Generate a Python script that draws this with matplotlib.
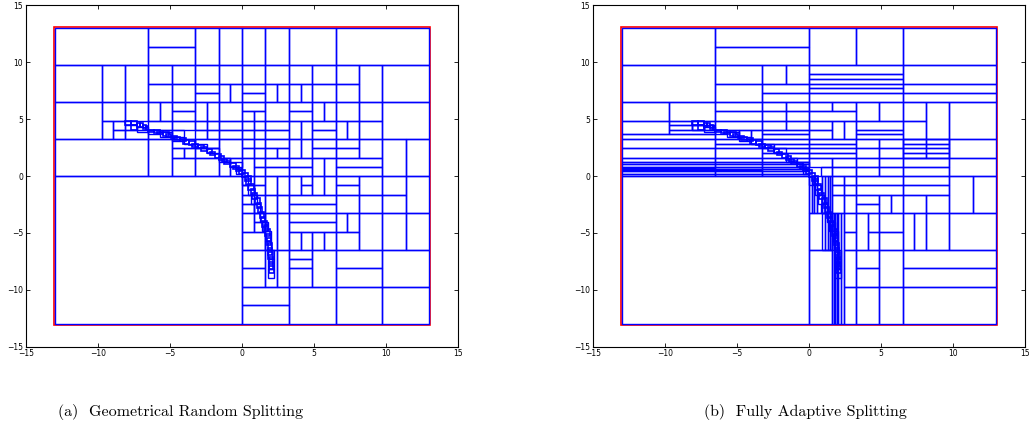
import matplotlib
matplotlib.use("Agg")
import matplotlib.pyplot as plt
from matplotlib.patches import Rectangle

# domain of the partition (red frame)
domain = (-13, 13, -13, 13)
ticks = [-15, -10, -5, 0, 5, 10, 15]
captions = ["(a)  Geometrical Random Splitting", "(b)  Fully Adaptive Splitting"]

# ---- panel (a): boxes (x0, x1, y0, y1) ----
geo_cells = [
    # top row
    (-13, -6.5, 9.75, 13), (-6.5, -3.25, 11.375, 13), (-6.5, -3.25, 9.75, 11.375),
    (-3.25, -1.625, 9.75, 13), (-1.625, 0, 9.75, 13), (0, 1.625, 9.75, 13),
    (1.625, 3.25, 9.75, 13), (3.25, 6.5, 9.75, 13), (6.5, 13, 9.75, 13),
    # 6.5 .. 9.75
    (-13, -9.75, 6.5, 9.75), (-9.75, -8.125, 6.5, 9.75), (-8.125, -6.5, 6.5, 9.75),
    (-6.5, -4.875, 8.125, 9.75), (-4.875, -3.25, 8.125, 9.75),
    (-6.5, -4.875, 6.5, 8.125), (-4.875, -3.25, 6.5, 8.125),
    (-3.25, -1.625, 8.125, 9.75), (-1.625, 0, 8.125, 9.75),
    (-3.25, -1.625, 7.3125, 8.125), (-3.25, -1.625, 6.5, 7.3125),
    (-1.625, -0.8125, 6.5, 8.125), (-0.8125, 0, 6.5, 8.125),
    (0, 1.625, 8.125, 9.75), (1.625, 3.25, 8.125, 9.75),
    (0, 1.625, 7.3125, 8.125), (0, 1.625, 6.5, 7.3125),
    (1.625, 2.4375, 6.5, 8.125), (2.4375, 3.25, 6.5, 8.125),
    (3.25, 4.875, 8.125, 9.75), (4.875, 6.5, 8.125, 9.75),
    (3.25, 4.0625, 6.5, 8.125), (4.0625, 4.875, 6.5, 8.125), (4.875, 6.5, 6.5, 8.125),
    (6.5, 8.125, 8.125, 9.75), (6.5, 8.125, 6.5, 8.125), (8.125, 9.75, 6.5, 9.75),
    (9.75, 13, 6.5, 9.75),
    # 3.25 .. 6.5
    (-13, -9.75, 3.25, 6.5), (-9.75, -8.125, 4.875, 6.5), (-8.125, -6.5, 4.875, 6.5),
    (-9.75, -8.9375, 3.25, 4.875), (-8.9375, -8.125, 4.0625, 4.875),
    (-8.9375, -8.125, 3.25, 4.0625), (-8.125, -6.5, 3.25, 4.0625),
    (-6.5, -5.6875, 4.875, 6.5), (-5.6875, -4.875, 4.875, 6.5),
    (-4.875, -3.25, 5.6875, 6.5), (-4.875, -3.25, 4.875, 5.6875),
    (-6.5, -4.875, 4.0625, 4.875), (-6.5, -4.875, 3.25, 4.0625),
    (-4.875, -3.25, 4.0625, 4.875), (-4.875, -4.0625, 3.25, 4.0625),
    (-3.25, -2.4375, 4.875, 6.5), (-2.4375, -1.625, 4.875, 6.5), (-1.625, 0, 4.875, 6.5),
    (-3.25, -2.4375, 4.0625, 4.875), (-2.4375, -1.625, 4.0625, 4.875),
    (-1.625, 0, 4.0625, 4.875), (-3.25, -2.4375, 3.25, 4.0625),
    (-2.4375, -1.625, 3.25, 4.0625), (-1.625, 0, 3.25, 4.0625),
    (0, 1.625, 5.6875, 6.5), (0, 0.8125, 4.875, 5.6875), (0.8125, 1.625, 4.875, 5.6875),
    (1.625, 3.25, 4.875, 6.5), (0, 0.8125, 4.0625, 4.875), (0.8125, 1.625, 4.0625, 4.875),
    (1.625, 3.25, 4.0625, 4.875), (0, 0.8125, 3.25, 4.0625),
    (0.8125, 1.625, 3.25, 4.0625), (1.625, 3.25, 3.25, 4.0625),
    (3.25, 4.875, 5.6875, 6.5), (3.25, 4.875, 4.875, 5.6875),
    (4.875, 5.6875, 4.875, 6.5), (5.6875, 6.5, 4.875, 6.5),
    (3.25, 4.0625, 3.25, 4.875), (4.0625, 4.875, 3.25, 4.875),
    (4.875, 6.5, 4.0625, 4.875), (4.875, 6.5, 3.25, 4.0625),
    (6.5, 8.125, 4.875, 6.5), (8.125, 9.75, 4.875, 6.5),
    (6.5, 7.3125, 3.25, 4.875), (7.3125, 8.125, 3.25, 4.875), (8.125, 9.75, 3.25, 4.875),
    (9.75, 13, 3.25, 6.5),
    # 0 .. 3.25
    (-13, -6.5, 0, 3.25), (-6.5, -4.875, 0, 3.25),
    (-4.875, -3.25, 2.4375, 3.25), (-4.875, -4.0625, 1.625, 2.4375),
    (-4.0625, -3.25, 1.625, 2.4375), (-4.875, -3.25, 0, 1.625),
    (-3.25, -1.625, 2.4375, 3.25), (-3.25, -1.625, 1.625, 2.4375),
    (-3.25, -1.625, 0, 1.625), (-1.625, 0, 1.625, 3.25),
    (-1.625, -0.8125, 0, 1.625), (-0.8125, 0, 0, 1.625),
    (0, 0.8125, 2.4375, 3.25), (0.8125, 1.625, 2.4375, 3.25), (1.625, 3.25, 2.4375, 3.25),
    (0, 0.8125, 1.625, 2.4375), (0.8125, 1.625, 1.625, 2.4375),
    (1.625, 2.4375, 1.625, 2.4375), (2.4375, 3.25, 1.625, 2.4375),
    (0, 0.8125, 0, 1.625), (0.8125, 1.625, 0.8125, 1.625), (0.8125, 1.625, 0, 0.8125),
    (1.625, 3.25, 0.8125, 1.625), (1.625, 3.25, 0, 0.8125),
    (3.25, 4.0625, 1.625, 3.25), (4.0625, 4.875, 1.625, 3.25),
    (4.875, 6.5, 2.4375, 3.25), (4.875, 6.5, 1.625, 2.4375),
    (3.25, 4.875, 0.8125, 1.625), (3.25, 4.875, 0, 0.8125),
    (4.875, 5.6875, 0, 1.625), (5.6875, 6.5, 0, 1.625),
    (6.5, 8.125, 2.4375, 3.25), (6.5, 8.125, 1.625, 2.4375), (8.125, 9.75, 1.625, 3.25),
    (6.5, 9.75, 0.8125, 1.625), (6.5, 9.75, 0, 0.8125),
    (9.75, 11.375, 0, 3.25), (11.375, 13, 0, 3.25),
    # -3.25 .. 0
    (-13, 0, -13, 0),
    (0, 0.8125, -0.8125, 0), (0, 0.8125, -1.625, -0.8125),
    (0, 0.8125, -2.4375, -1.625), (0, 0.8125, -3.25, -2.4375),
    (0.8125, 1.625, -0.8125, 0), (0.8125, 1.625, -1.625, -0.8125),
    (0.8125, 1.625, -3.25, -1.625), (1.625, 2.4375, -1.625, 0),
    (2.4375, 3.25, -1.625, 0), (1.625, 2.4375, -3.25, -1.625),
    (2.4375, 3.25, -3.25, -1.625),
    (3.25, 4.0625, -1.625, 0), (4.0625, 4.875, -0.8125, 0),
    (4.0625, 4.875, -1.625, -0.8125), (4.875, 5.6875, -1.625, 0),
    (5.6875, 6.5, -1.625, 0), (3.25, 6.5, -2.4375, -1.625), (3.25, 6.5, -3.25, -2.4375),
    (6.5, 8.125, -0.8125, 0), (6.5, 8.125, -1.625, -0.8125), (8.125, 9.75, -1.625, 0),
    (6.5, 8.125, -3.25, -1.625), (8.125, 9.75, -3.25, -1.625),
    (9.75, 11.375, -1.625, 0), (9.75, 11.375, -3.25, -1.625), (11.375, 13, -3.25, 0),
    # -6.5 .. -3.25
    (0, 0.8125, -4.875, -3.25), (0.8125, 1.625, -4.0625, -3.25),
    (0.8125, 1.625, -4.875, -4.0625), (0, 1.625, -6.5, -4.875),
    (1.625, 2.4375, -6.5, -3.25), (2.4375, 3.25, -6.5, -3.25),
    (3.25, 6.5, -4.0625, -3.25), (3.25, 6.5, -4.875, -4.0625),
    (3.25, 4.0625, -6.5, -4.875), (4.0625, 4.875, -6.5, -4.875),
    (4.875, 5.6875, -6.5, -4.875), (5.6875, 6.5, -6.5, -4.875),
    (6.5, 7.3125, -4.875, -3.25), (7.3125, 8.125, -4.875, -3.25),
    (6.5, 8.125, -6.5, -4.875), (8.125, 9.75, -6.5, -3.25),
    (9.75, 11.375, -6.5, -3.25), (11.375, 13, -6.5, -3.25),
    # -9.75 .. -6.5
    (0, 1.625, -8.125, -6.5), (0, 1.625, -9.75, -8.125),
    (1.625, 2.4375, -9.75, -6.5), (2.4375, 3.25, -9.75, -6.5),
    (3.25, 4.875, -7.3125, -6.5), (3.25, 4.875, -8.125, -7.3125),
    (3.25, 4.875, -9.75, -8.125), (4.875, 6.5, -9.75, -6.5),
    (6.5, 9.75, -8.125, -6.5), (6.5, 9.75, -9.75, -8.125), (9.75, 13, -9.75, -6.5),
    # bottom row
    (0, 3.25, -11.375, -9.75), (0, 3.25, -13, -11.375), (3.25, 6.5, -13, -9.75),
    (6.5, 9.75, -13, -9.75), (9.75, 13, -13, -9.75),
]

# small boxes hugging the interface curve
curve_cells = [
    (-8.125, -7.72, 4.47, 4.875), (-7.72, -7.31, 4.47, 4.875), (-7.72, -7.31, 4.06, 4.47),
    (-7.31, -7.1, 4.27, 4.67), (-7.1, -6.9, 4.27, 4.67), (-6.9, -6.7, 4.17, 4.47),
    (-6.7, -6.5, 4.07, 4.37), (-6.5, -6.1, 3.86, 4.06), (-6.1, -5.7, 3.76, 4.06),
    (-5.9, -5.5, 3.66, 3.86), (-5.5, -5.1, 3.56, 3.86), (-5.3, -4.9, 3.45, 3.66),
    (-4.9, -4.5, 3.35, 3.56), (-4.7, -4.3, 3.15, 3.45), (-4.3, -3.9, 3.05, 3.35),
    (-4.1, -3.7, 2.85, 3.15), (-3.7, -3.25, 2.75, 3.05), (-3.45, -3.05, 2.55, 2.85),
    (-3.05, -2.65, 2.44, 2.75), (-2.85, -2.45, 2.24, 2.54), (-2.45, -2.05, 2.03, 2.34),
    (-2.25, -1.85, 1.83, 2.13), (-1.85, -1.45, 1.63, 1.93), (-1.63, -1.22, 1.42, 1.73),
    (-1.42, -1.02, 1.22, 1.52), (-1.22, -0.81, 1.02, 1.32), (-0.81, -0.41, 0.81, 1.12),
    (-0.61, -0.2, 0.61, 0.91), (-0.41, 0, 0.41, 0.71), (-0.2, 0.2, 0.2, 0.51),
    (0, 0.41, -0.1, 0.3), (0.2, 0.61, -0.41, 0), (0.3, 0.61, -0.81, -0.3),
    (0.41, 0.81, -1.22, -0.71), (0.61, 0.91, -1.63, -1.12), (0.71, 1.02, -2.03, -1.52),
    (0.91, 1.22, -2.44, -1.93), (1.02, 1.32, -2.84, -2.34), (1.12, 1.42, -3.25, -2.75),
    (1.22, 1.52, -3.66, -3.15), (1.32, 1.63, -4.06, -3.56), (1.42, 1.73, -4.47, -3.96),
    (1.52, 1.83, -4.87, -4.27), (1.63, 1.93, -5.28, -4.67), (1.68, 1.98, -5.69, -5.08),
    (1.73, 2.03, -6.09, -5.48), (1.78, 2.08, -6.5, -5.89), (1.8, 2.1, -6.9, -6.3),
    (1.83, 2.13, -7.31, -6.7), (1.85, 2.15, -7.72, -7.11), (1.88, 2.18, -8.13, -7.52),
    (1.9, 2.2, -8.53, -7.92),
]

# medium boxes around the curve, one level coarser
curve_cells_outer = [
    (-8.125, -7.3125, 4.06, 4.47), (-7.3125, -6.5, 3.86, 4.27),
    (-6.5, -5.6875, 3.66, 4.06), (-5.6875, -4.875, 3.45, 3.86),
    (-4.875, -4.0625, 3.05, 3.45), (-4.0625, -3.25, 2.84, 3.25),
    (-3.25, -2.4375, 2.44, 2.84), (-2.4375, -1.625, 2.03, 2.44),
    (-1.625, -0.8125, 1.22, 1.63), (-0.8125, 0, 0.81, 1.22), (-0.41, 0, 0.2, 0.61),
    (0, 0.41, -0.81, 0), (0.41, 0.81, -1.63, -0.81), (0.61, 1.02, -2.44, -1.63),
    (0.81, 1.22, -3.25, -2.44), (1.22, 1.63, -4.06, -3.25), (1.42, 1.83, -4.87, -4.06),
    (1.63, 2.03, -5.69, -4.87), (1.63, 2.03, -6.5, -5.69), (1.83, 2.24, -7.31, -6.5),
    (1.83, 2.24, -8.13, -7.31), (1.83, 2.24, -8.94, -8.13),
]

# ---- panel (b): boxes away from the curve ----
adapt_cells = [
    (-13, -6.5, 9.75, 13), (-6.5, 0, 11.375, 13), (-6.5, 0, 9.75, 11.375),
    (0, 3.25, 9.75, 13), (3.25, 6.5, 9.75, 13), (6.5, 13, 9.75, 13),
    (-13, -6.5, 6.5, 9.75), (-6.5, -3.25, 8.125, 9.75), (-6.5, -3.25, 6.5, 8.125),
    (-3.25, -1.625, 8.125, 9.75), (-1.625, 0, 8.125, 9.75),
    (-3.25, 0, 7.3125, 8.125), (-3.25, 0, 6.5, 7.3125),
    (6.5, 13, 8.125, 9.75), (6.5, 13, 7.3125, 8.125), (6.5, 13, 6.5, 7.3125),
    (-13, -9.75, 4.875, 6.5), (-9.75, -6.5, 4.875, 6.5),
    (-6.5, -3.25, 5.6875, 6.5), (-6.5, -3.25, 4.875, 5.6875),
    (-3.25, -1.625, 5.6875, 6.5), (-1.625, 0, 5.6875, 6.5),
    (-3.25, -1.625, 4.875, 5.6875), (-1.625, 0, 4.875, 5.6875),
    (-3.25, -1.625, 4.0625, 4.875), (-1.625, 0, 4.0625, 4.875),
    (-13, -9.75, 3.66, 4.875), (-9.75, -8.125, 4.47, 4.875), (-8.125, -6.5, 4.47, 4.875),
    (-9.75, -8.125, 4.06, 4.47), (-8.125, -7.31, 4.06, 4.47), (-7.31, -6.5, 4.06, 4.47),
    (-9.75, -6.5, 3.66, 4.06), (-6.5, -4.875, 3.25, 4.06), (-4.875, -4.0625, 3.25, 4.06),
    (-4.0625, -3.25, 3.25, 4.06), (-6.5, -3.25, 4.06, 4.875),
    (0, 1.625, 5.6875, 6.5), (1.625, 3.25, 5.6875, 6.5), (0, 3.25, 4.875, 5.6875),
    (0, 1.625, 4.0625, 4.875), (0, 1.625, 3.25, 4.0625),
    (1.625, 2.4375, 3.25, 4.875), (2.4375, 3.25, 3.25, 4.875),
    (3.25, 4.875, 4.875, 6.5), (4.875, 6.5, 4.875, 6.5), (3.25, 6.5, 4.0625, 4.875),
    (3.25, 6.5, 3.66, 4.0625), (3.25, 6.5, 3.25, 3.66),
    (6.5, 8.125, 4.875, 6.5), (6.5, 8.125, 3.25, 4.875), (8.125, 9.75, 3.25, 6.5),
    (9.75, 13, 3.25, 6.5),
    (0, 1.625, 0.8125, 1.625), (1.625, 3.25, 0.8125, 1.625),
    (0.8125, 1.625, 0, 0.8125), (1.625, 3.25, 0, 0.8125),
    (3.25, 4.875, 2.4375, 3.25), (4.875, 6.5, 2.4375, 3.25),
    (3.25, 4.875, 1.625, 2.4375), (4.875, 6.5, 1.625, 2.4375),
    (3.25, 4.875, 0.8125, 1.625), (4.875, 6.5, 0.8125, 1.625),
    (3.25, 4.875, 0, 0.8125), (4.875, 6.5, 0, 0.8125),
    (6.5, 8.125, 1.625, 3.25), (8.125, 9.75, 1.625, 3.25),
    (6.5, 9.75, 0.8125, 1.625), (6.5, 9.75, 0, 0.8125),
    (9.75, 13, 1.625, 3.25), (9.75, 13, 0, 1.625),
    (-13, 0, -13, 0),
    (1.625, 2.4375, -0.8125, 0), (1.625, 2.4375, -1.625, -0.8125),
    (2.4375, 3.25, -0.8125, 0), (2.4375, 3.25, -1.625, -0.8125),
    (1.625, 2.4375, -3.25, -1.625), (2.4375, 3.25, -3.25, -1.625),
    (3.25, 6.5, -0.8125, 0), (3.25, 6.5, -1.625, -0.8125),
    (3.25, 4.875, -2.4375, -1.625), (3.25, 4.875, -3.25, -2.4375),
    (4.875, 5.6875, -3.25, -1.625), (5.6875, 6.5, -3.25, -1.625),
    (6.5, 9.75, -0.8125, 0), (6.5, 9.75, -1.625, -0.8125),
    (6.5, 8.125, -3.25, -1.625), (8.125, 9.75, -3.25, -1.625),
    (9.75, 11.375, -3.25, 0), (11.375, 13, -3.25, 0),
    (2.4375, 3.25, -4.875, -3.25), (2.4375, 3.25, -6.5, -4.875),
    (3.25, 4.0625, -6.5, -3.25), (4.0625, 4.875, -4.875, -3.25),
    (4.0625, 4.875, -6.5, -4.875), (4.875, 6.5, -4.875, -3.25),
    (4.875, 6.5, -6.5, -4.875), (6.5, 7.3125, -6.5, -3.25),
    (7.3125, 8.125, -6.5, -3.25), (8.125, 9.75, -6.5, -3.25), (9.75, 13, -6.5, -3.25),
    (0, 1.625, -6.5, -3.25), (0, 1.625, -13, -6.5),
    (2.4375, 3.25, -9.75, -6.5), (2.4375, 3.25, -13, -9.75),
    (3.25, 4.875, -8.125, -6.5), (3.25, 4.875, -9.75, -8.125), (3.25, 4.875, -13, -9.75),
    (4.875, 6.5, -9.75, -6.5), (4.875, 6.5, -13, -9.75),
    (6.5, 13, -8.125, -6.5), (6.5, 13, -9.75, -8.125), (6.5, 13, -13, -9.75),
]

# horizontal strips of panel (b): y edges per x-range
strip_ranges_h = [(-13, -6.5), (-6.5, -3.25), (-3.25, 0), (0, 3.25), (6.5, 9.75)]
strip_edges_h = [
    [0, 0.2, 0.41, 0.51, 0.61, 0.71, 0.81, 1.02, 1.22, 1.63, 2.44, 3.25, 3.66],
    [0, 0.2, 0.41, 0.51, 0.61, 0.81, 1.02, 1.22, 1.63, 2.44, 2.84, 3.25],
    [0, 0.2, 0.41, 0.61, 0.81, 1.02, 1.22, 1.63, 2.03, 2.44, 2.84, 3.25, 3.66, 4.06],
    [1.625, 2.03, 2.44, 2.84, 3.25],
    [1.625, 2.03, 2.44, 2.84, 3.25],
]
# horizontal strips above the curve (0 .. 6.5, 6.5 .. 9.75)
upper_strip_edges = [6.5, 7.3125, 7.72, 8.125, 8.53, 8.9375, 9.75]
# vertical strips below the curve: x edges per y-range
strip_ranges_v = [(-3.25, 0), (-6.5, -3.25), (-13, -3.25)]
strip_edges_v = [
    [0, 0.2, 0.36, 0.59, 0.89, 1.12, 1.29, 1.47, 1.625],
    [0.89, 1.12, 1.29, 1.47, 1.625],
    [1.625, 1.73, 1.83, 1.93, 2.03, 2.2, 2.4375],
]


def draw_cells(ax, cells, color="blue", lw=1.0):
    for x0, x1, y0, y1 in cells:
        ax.add_patch(Rectangle((x0, y0), x1 - x0, y1 - y0, fill=False,
                               edgecolor=color, linewidth=lw))


def setup_axes(ax):
    ax.set_xlim(-15, 15)
    ax.set_ylim(-15, 15)
    ax.set_xticks(ticks)
    ax.set_yticks(ticks)
    ax.tick_params(direction="in", length=3, width=0.6, labelsize=5.5,
                   top=True, right=True, pad=2)
    for sp in ax.spines.values():
        sp.set_linewidth(0.8)


fig = plt.figure(figsize=(10.32, 4.34), dpi=100)
ax_a = fig.add_axes([26 / 1032, 1 - 346.7 / 434, 432 / 1032, 341.3 / 434])
ax_b = fig.add_axes([593 / 1032, 1 - 346.7 / 434, 432 / 1032, 341.3 / 434])

for ax in (ax_a, ax_b):
    setup_axes(ax)
    x0, x1, y0, y1 = domain
    draw_cells(ax, [(x0 - 0.08, x1 + 0.08, y0 - 0.08, y1 + 0.08)], color="red", lw=1.2)

# panel (a)
draw_cells(ax_a, geo_cells)
draw_cells(ax_a, curve_cells_outer)
draw_cells(ax_a, curve_cells, lw=1.2)

# panel (b)
draw_cells(ax_b, adapt_cells)
hstrips = []
for (xa, xb), edges in zip(strip_ranges_h, strip_edges_h):
    hstrips += [(xa, xb, lo, hi) for lo, hi in zip(edges[:-1], edges[1:])]
hstrips += [(0, 6.5, lo, hi) for lo, hi in zip(upper_strip_edges[:-1], upper_strip_edges[1:])]
vstrips = []
for (ya, yb), edges in zip(strip_ranges_v, strip_edges_v):
    vstrips += [(lo, hi, ya, yb) for lo, hi in zip(edges[:-1], edges[1:])]
draw_cells(ax_b, hstrips)
draw_cells(ax_b, vstrips)
draw_cells(ax_b, curve_cells_outer)
draw_cells(ax_b, curve_cells, lw=1.2)

fig.text(181 / 1032, 1 - 412 / 434, captions[0], ha="center", va="center",
         family="cmr10", fontsize=11.5)
fig.text(805 / 1032, 1 - 412 / 434, captions[1], ha="center", va="center",
         family="cmr10", fontsize=11.5)

fig.savefig("out.png", dpi=100)
